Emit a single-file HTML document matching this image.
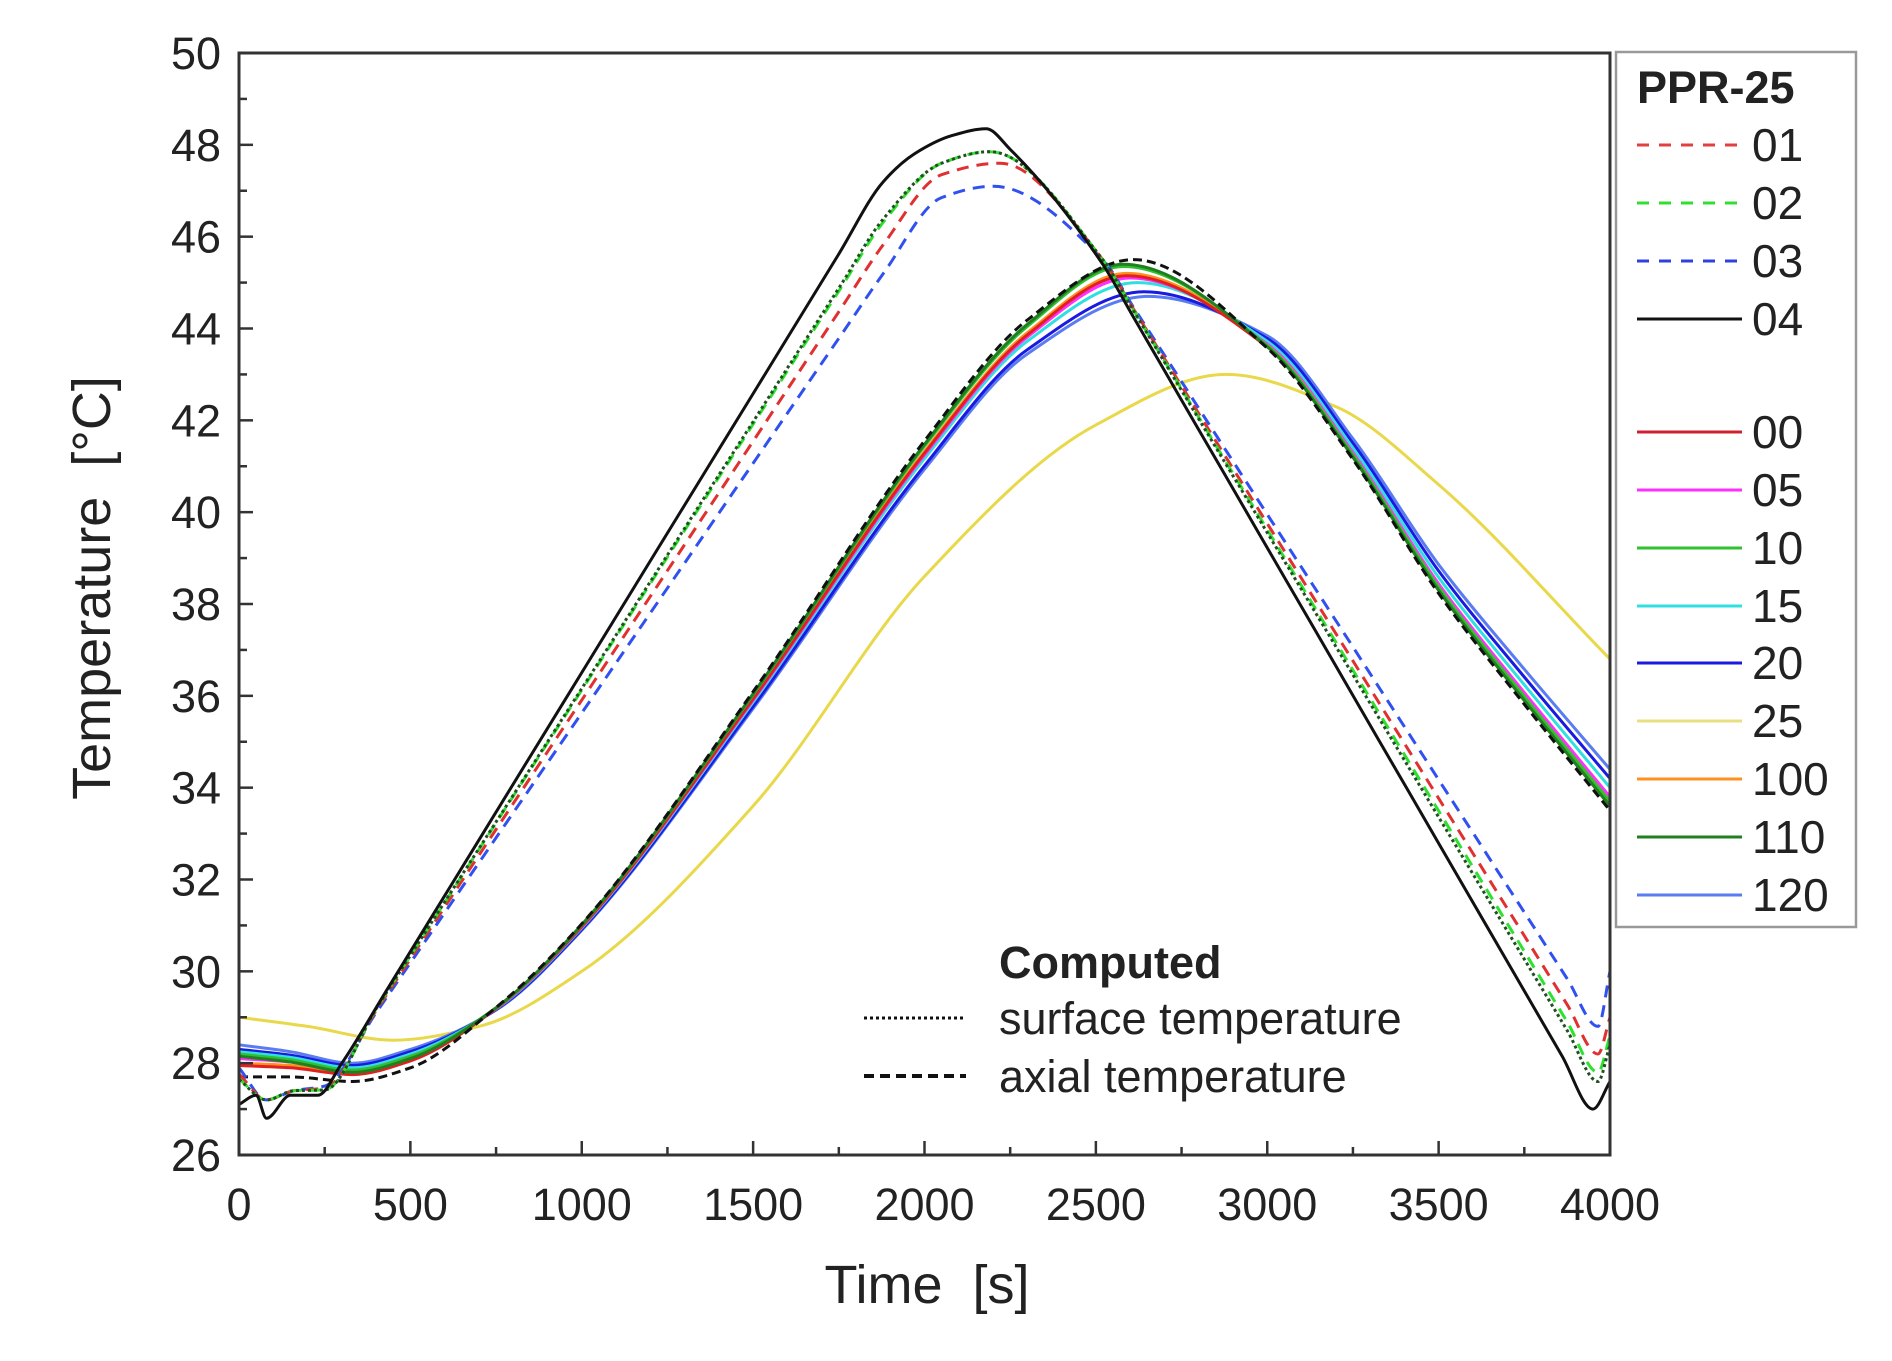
<!DOCTYPE html>
<html><head><meta charset="utf-8"><style>
html,body{margin:0;padding:0;background:#fff;}
svg{display:block;}
text{font-family:"Liberation Sans",Arial,sans-serif;fill:#222;white-space:pre;}
</style></head><body>
<svg id="s" width="1892" height="1361" viewBox="0 0 1892 1361" xmlns="http://www.w3.org/2000/svg" xml:space="preserve">
<rect width="1892" height="1361" fill="#fff"/>
<g id="curves"></g>
<g id="axes" stroke="#333" stroke-width="3" fill="none">
<rect x="239" y="53" width="1371" height="1102"/>
</g>
<g id="ticks" stroke="#333" stroke-width="2.5"></g>
<g id="labels" font-size="45" text-anchor="end"></g>
<text x="927" y="1303" font-size="54" text-anchor="middle">Time  [s]</text>
<text transform="translate(110,588) rotate(-90)" font-size="54" text-anchor="middle">Temperature  [°C]</text>
<rect x="1616" y="52" width="240" height="875" fill="#fff" stroke="#999" stroke-width="2.5"/>
<g id="leg" font-size="46"></g>
<text x="1637" y="103" font-size="45" font-weight="bold">PPR-25</text>
<text x="999" y="978" font-size="45" font-weight="bold">Computed</text>
<line x1="864" y1="1018" x2="966" y2="1018" stroke="#111" stroke-width="3" stroke-dasharray="3,3"/>
<text x="999" y="1034" font-size="45">surface temperature</text>
<line x1="864" y1="1076" x2="966" y2="1076" stroke="#111" stroke-width="4" stroke-dasharray="10,6"/>
<text x="999" y="1092" font-size="45">axial temperature</text>
</svg>
<script>
var NS="http://www.w3.org/2000/svg";
function X(t){return 239+t*1371/4000;}
function Y(v){return 1155-(v-26)*1102/24;}
function el(p,tag,a){var e=document.createElementNS(NS,tag);for(var k in a)e.setAttribute(k,a[k]);p.appendChild(e);return e;}
var tk=document.getElementById('ticks'),lb=document.getElementById('labels');
for(var v=26;v<=50;v++){var y=Y(v);var L=(v%2==0)?14:8;el(tk,'line',{x1:239,y1:y,x2:239+L,y2:y});
 if(v%2==0){var t=el(lb,'text',{x:221,y:y+16});t.textContent=v;}}
for(var s=0;s<=4000;s+=250){var x=X(s);var L=(s%500==0)?14:8;el(tk,'line',{x1:x,y1:1155,x2:x,y2:1155-L});
 if(s%500==0){var t=el(lb,'text',{x:x,y:1220,'text-anchor':'middle'});t.textContent=s;}}
function path(pts){
 var n=pts.length,xs=pts.map(p=>p[0]),ys=pts.map(p=>p[1]),d=[],m=[];
 for(var i=0;i<n-1;i++)d.push((ys[i+1]-ys[i])/(xs[i+1]-xs[i]));
 m[0]=d[0];m[n-1]=d[n-2];
 for(i=1;i<n-1;i++){if(d[i-1]*d[i]<=0)m[i]=0;else{var w1=2*(xs[i+1]-xs[i])+(xs[i]-xs[i-1]),w2=(xs[i+1]-xs[i])+2*(xs[i]-xs[i-1]);m[i]=(w1+w2)/(w1/d[i-1]+w2/d[i]);}}
 var s='M'+X(xs[0]).toFixed(1)+' '+Y(ys[0]).toFixed(1);
 for(i=0;i<n-1;i++){var h=xs[i+1]-xs[i];
  s+=' C'+X(xs[i]+h/3).toFixed(1)+' '+Y(ys[i]+m[i]*h/3).toFixed(1)+' '+X(xs[i+1]-h/3).toFixed(1)+' '+Y(ys[i+1]-m[i+1]*h/3).toFixed(1)+' '+X(xs[i+1]).toFixed(1)+' '+Y(ys[i+1]).toFixed(1);}
 return s;}
function lin(a,b,n){var r=[];for(var i=1;i<n;i++){var f=i/n;r.push([a[0]+(b[0]-a[0])*f,a[1]+(b[1]-a[1])*f]);}return r;}
var g=document.getElementById('curves');
function B(pk,tp,st,mn,end){
 var k=(pk-28)/17.3,e=end-33.6;
 return [[0,st],[150,(st+mn)/2+0.05],[330,mn],[500,mn+0.3],[750,28+1.2*k],[1000,28+3*k],[1500,28+8*k],[2000,28+13.4*k],[2300,28+16*k],[tp,pk],[3000,43.6+e*0.3],[3250,41.2+e*0.5],[3500,38.3+e*0.7],[3750,35.9+e*0.85],[4000,end]];}
var Bs=[
 ['#e8d84a',[[0,29],[200,28.8],[450,28.5],[700,28.8],[1000,30],[1500,33.6],[2000,38.6],[2500,41.9],[2880,43],[3200,42.3],[3500,40.6],[4000,36.8]],3,''],
 ['#5a7cf0',B(44.7,2650,28.4,28.0,34.4),3,''],
 ['#1a1ae0',B(44.8,2640,28.3,27.95,34.2),3,''],
 ['#30e0e0',B(45.0,2620,28.25,27.9,34.0),3,''],
 ['#ff30ff',B(45.1,2600,28.1,27.85,33.8),3,''],
 ['#ff9020',B(45.2,2590,28.0,27.8,33.7),3,''],
 ['#e02020',B(45.15,2590,27.95,27.75,33.6),3,''],
 ['#30c030',B(45.35,2580,28.2,27.85,33.7),3,''],
 ['#208020',B(45.4,2580,28.15,27.8,33.6),3,''],
 ['#111',B(45.5,2610,27.7,27.6,33.5),3,'9,5']
];
function A(pk,tp,off,end,endr){
 var p1=[400,29.2-off*0.1],p2=[1880,46.6-off*1.4],q1=[2520,45.5],q2=[3965,end];
 return [[0,27.6+off*0.3],[80,27.2],[160,27.4],[250,27.4+off*0.1],p1].concat(lin(p1,p2,12)).concat([p2,[2050,pk-0.25],[tp,pk],q1]).concat(lin(q1,q2,16)).concat([q2,[4000,endr]]);}
var As=[
 ['#3050f0',A(47.1,2200,1.0,28.8,30),3,'12,8'],
 ['#e03030',A(47.6,2220,0.55,28.2,29),3,'12,8'],
 ['#30e030',A(47.85,2190,0.2,27.8,28.6),3,'12,8'],
 ['#205020',A(47.85,2190,0.15,27.6,28.4),3,'3,3']
];
Bs.concat(As).forEach(function(c){var a={d:path(c[1]),fill:'none',stroke:c[0],'stroke-width':c[2]};if(c[3])a['stroke-dasharray']=c[3];el(g,'path',a);});
var b1=[300,28],b2=[1880,47.2],b3=[2520,45.4],b4=[3950,27];
el(g,'path',{d:path([[0,27.1],[50,27.3],[80,26.8],[150,27.3],[230,27.3],b1].concat(lin(b1,b2,12)).concat([b2,[1970,47.8],[2080,48.2],[2180,48.35],[2250,47.9],b3]).concat(lin(b3,b4,16)).concat([b4,[4000,27.6]])),fill:'none',stroke:'#111','stroke-width':3});
var leg=document.getElementById('leg');
var items=[['01','#e04040','12,10',145],['02','#30e030','12,10',203],['03','#3040e0','12,10',261],['04','#111','',319],
['00','#d02030','',432],['05','#ff30ff','',490],['10','#30c030','',548],['15','#30e0e0','',606],['20','#1a1ae0','',663],['25','#e8e080','',721],['100','#ff9020','',779],['110','#208020','',837],['120','#5a7cf0','',895]];
items.forEach(function(it){var a={x1:1637,y1:it[3],x2:1742,y2:it[3],stroke:it[1],'stroke-width':3};if(it[2])a['stroke-dasharray']=it[2];el(leg,'line',a);
 var t=el(leg,'text',{x:1752,y:it[3]+16});t.textContent=it[0];});
</script>
</body></html>
